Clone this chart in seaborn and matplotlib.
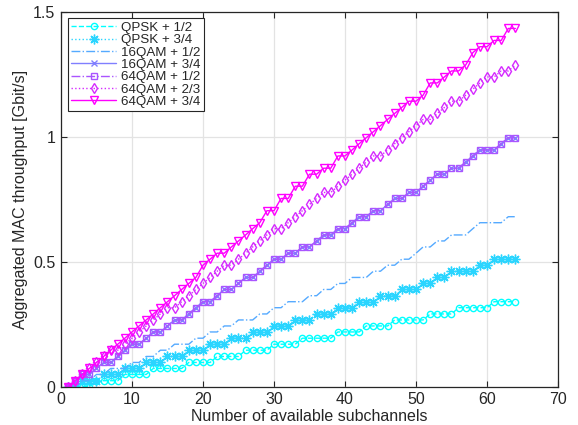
import numpy as np
import pandas as pd
import matplotlib
matplotlib.use("Agg")
import matplotlib.pyplot as plt
import seaborn as sns

# ---------------- data (Gbit/s), n = 1..64 available subchannels ----------------
subchannels = list(range(1, 65))

qpsk_12 = [0.000, 0.000, 0.000, 0.000, 0.024, 0.024, 0.024, 0.024, 0.049, 0.049,
           0.049, 0.049, 0.073, 0.073, 0.073, 0.073, 0.073, 0.097, 0.097, 0.097,
           0.097, 0.121, 0.121, 0.121, 0.121, 0.146, 0.146, 0.146, 0.146, 0.170,
           0.170, 0.170, 0.170, 0.194, 0.194, 0.194, 0.194, 0.194, 0.219, 0.219,
           0.219, 0.219, 0.243, 0.243, 0.243, 0.243, 0.267, 0.267, 0.267, 0.267,
           0.267, 0.291, 0.291, 0.291, 0.291, 0.316, 0.316, 0.316, 0.316, 0.316,
           0.340, 0.340, 0.340, 0.340]

qpsk_34 = [0.000, 0.000, 0.024, 0.024, 0.024, 0.049, 0.049, 0.049, 0.073, 0.073,
           0.073, 0.097, 0.097, 0.097, 0.121, 0.121, 0.121, 0.146, 0.146, 0.146,
           0.170, 0.170, 0.170, 0.194, 0.194, 0.194, 0.219, 0.219, 0.219, 0.243,
           0.243, 0.243, 0.267, 0.267, 0.267, 0.291, 0.291, 0.291, 0.316, 0.316,
           0.316, 0.340, 0.340, 0.340, 0.364, 0.364, 0.364, 0.389, 0.389, 0.389,
           0.413, 0.413, 0.437, 0.437, 0.462, 0.462, 0.462, 0.462, 0.486, 0.486,
           0.510, 0.510, 0.510, 0.510]

qam16_12 = [0.000, 0.000, 0.024, 0.024, 0.049, 0.049, 0.073, 0.073, 0.073, 0.097,
            0.097, 0.121, 0.121, 0.146, 0.146, 0.170, 0.170, 0.170, 0.194, 0.194,
            0.219, 0.219, 0.243, 0.243, 0.267, 0.267, 0.267, 0.291, 0.291, 0.316,
            0.316, 0.340, 0.340, 0.340, 0.364, 0.364, 0.389, 0.389, 0.413, 0.413,
            0.437, 0.437, 0.437, 0.462, 0.462, 0.486, 0.486, 0.510, 0.510, 0.534,
            0.559, 0.559, 0.583, 0.583, 0.607, 0.607, 0.607, 0.632, 0.656, 0.656,
            0.656, 0.656, 0.680, 0.680]

qam16_34 = [0.000, 0.024, 0.049, 0.049, 0.073, 0.097, 0.097, 0.121, 0.146, 0.170,
            0.170, 0.194, 0.219, 0.219, 0.243, 0.267, 0.267, 0.291, 0.316, 0.340,
            0.340, 0.364, 0.389, 0.389, 0.413, 0.437, 0.437, 0.462, 0.486, 0.510,
            0.510, 0.534, 0.534, 0.559, 0.559, 0.583, 0.607, 0.607, 0.632, 0.632,
            0.656, 0.680, 0.680, 0.704, 0.704, 0.729, 0.753, 0.753, 0.777, 0.777,
            0.802, 0.826, 0.850, 0.850, 0.874, 0.874, 0.899, 0.923, 0.947, 0.947,
            0.947, 0.972, 0.996, 0.996]

qam64_12 = list(qam16_34)

qam64_23 = [0.000, 0.024, 0.049, 0.073, 0.097, 0.121, 0.146, 0.146, 0.170, 0.194,
            0.219, 0.243, 0.267, 0.291, 0.316, 0.316, 0.340, 0.364, 0.389, 0.413,
            0.437, 0.462, 0.486, 0.486, 0.510, 0.534, 0.559, 0.583, 0.607, 0.632,
            0.632, 0.656, 0.680, 0.704, 0.729, 0.753, 0.777, 0.777, 0.802, 0.826,
            0.850, 0.874, 0.899, 0.923, 0.923, 0.947, 0.972, 0.996, 1.020, 1.044,
            1.069, 1.069, 1.093, 1.117, 1.142, 1.142, 1.166, 1.190, 1.215, 1.239,
            1.239, 1.263, 1.263, 1.287]

qam64_34 = [0.000, 0.024, 0.049, 0.073, 0.097, 0.121, 0.146, 0.170, 0.194, 0.219,
            0.243, 0.267, 0.291, 0.316, 0.340, 0.364, 0.389, 0.413, 0.437, 0.486,
            0.510, 0.534, 0.534, 0.559, 0.583, 0.607, 0.632, 0.656, 0.704, 0.704,
            0.753, 0.753, 0.802, 0.802, 0.850, 0.850, 0.874, 0.874, 0.923, 0.923,
            0.947, 0.972, 0.996, 1.020, 1.044, 1.069, 1.093, 1.117, 1.142, 1.142,
            1.166, 1.215, 1.215, 1.239, 1.263, 1.263, 1.287, 1.336, 1.360, 1.360,
            1.385, 1.385, 1.433, 1.433]

series_labels = ["QPSK + 1/2", "QPSK + 3/4", "16QAM + 1/2", "16QAM + 3/4",
                 "64QAM + 1/2", "64QAM + 2/3", "64QAM + 3/4"]
series_values = [qpsk_12, qpsk_34, qam16_12, qam16_34, qam64_12, qam64_23, qam64_34]

x_ticks = [0, 10, 20, 30, 40, 50, 60, 70]
y_ticks = [0, 0.5, 1, 1.5]
y_tick_labels = ["0", "0.5", "1", "1.5"]

# ---------------- styles ----------------
cmap = plt.get_cmap("cool")
colors = [cmap(i / 6) for i in range(7)]
line_styles = ["--", ":", "-.", "-", "-.", ":", "-"]
markers = ["o", (8, 2, 0), None, "x", "s", "d", "v"]
marker_sizes = [4.5, 7, 0, 5, 5, 5, 5.5]

sns.set_theme(style="white")
plt.rcParams["font.family"] = ["Liberation Sans", "DejaVu Sans"]

fig = plt.figure(figsize=(5.78, 4.25), dpi=100)
ax = fig.add_axes([0.1055, 0.0901, 0.8599, 0.8824])

for lab, vals, col, ls, mk, ms in zip(series_labels, series_values, colors,
                                      line_styles, markers, marker_sizes):
    df = pd.DataFrame({"n": subchannels, "thr": vals})
    kw = dict(linestyle=ls, linewidth=1.0, color=col)
    if mk is not None:
        open_marker = mk in ("o", "s", "d", "v")
        kw.update(marker=mk, markersize=ms, markeredgewidth=1.0,
                  markerfacecolor="none" if open_marker else col,
                  markeredgecolor=col)
    sns.lineplot(data=df, x="n", y="thr", ax=ax, label=lab, **kw)

ax.set_xlim(0, 70)
ax.set_ylim(0, 1.5)
ax.set_xticks(x_ticks)
ax.set_yticks(y_ticks)
ax.set_yticklabels(y_tick_labels)
ax.grid(True, color="#e3e3e3", linewidth=0.9)
ax.set_axisbelow(True)
for sp in ax.spines.values():
    sp.set_color("#262626")
    sp.set_linewidth(0.9)
    sp.set_visible(True)
ax.tick_params(direction="in", length=4, width=0.8, top=True, right=True,
               bottom=True, left=True, labelsize=11.5, colors="#262626",
               labelcolor="#262626", pad=4)
ax.set_xlabel("Number of available subchannels", fontsize=11.5, color="#262626",
              labelpad=1)
ax.set_ylabel("Aggregated MAC throughput [Gbit/s]", fontsize=11.5, color="#262626",
              labelpad=4)

leg = ax.legend(loc="upper left", fontsize=9.6, frameon=True, fancybox=False,
                edgecolor="#262626", framealpha=1.0, borderpad=0.25,
                labelspacing=0.0, handlelength=3.4, handletextpad=0.35,
                borderaxespad=0.5)
leg.get_frame().set_linewidth(0.8)

fig.savefig("out.png", dpi=100)
